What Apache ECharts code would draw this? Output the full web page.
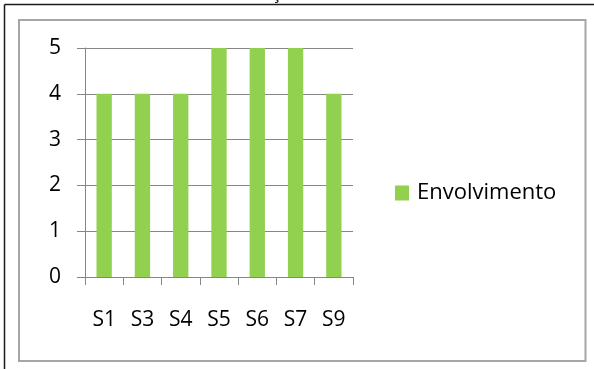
<!DOCTYPE html>
<html>
<head>
<meta charset="utf-8">
<style>
  html, body { margin: 0; padding: 0; background: #fff; }
  #chart { width: 594px; height: 369px; }
</style>
<script src="https://cdn.jsdelivr.net/npm/echarts@6/dist/echarts.min.js"></script>
</head>
<body>
<div id="chart"></div>
<script>
// Categories and values of the bar chart
const categories = ['S1', 'S3', 'S4', 'S5', 'S6', 'S7', 'S9'];
const seriesName = 'Envolvimento';
const envolvimento = [4, 4, 4, 5, 5, 5, 4];
const yTicks = [0, 1, 2, 3, 4, 5];

const FONT = '"Open Sans", sans-serif';
const chart = echarts.init(document.getElementById('chart'), null, { renderer: 'canvas' });

chart.setOption({
  animation: false,
  backgroundColor: '#ffffff',
  textStyle: { fontFamily: FONT },
  graphic: [
    // frame of the surrounding page box
    { type: 'line', shape: { x1: 4.5, y1: 4.5, x2: 600, y2: 4.5 },
      style: { stroke: '#1a1a1a', lineWidth: 1.5 } },
    { type: 'line', shape: { x1: 4.5, y1: 4.5, x2: 4.5, y2: 380 },
      style: { stroke: '#1a1a1a', lineWidth: 1.5 } },
    // chart area border
    { type: 'rect', shape: { x: 19, y: 20, width: 566.5, height: 341 },
      style: { fill: 'none', stroke: '#a6a6a6', lineWidth: 2 } },
    // tail of the heading text above the chart
    { type: 'text', x: 276, y: -6,
      style: { text: 'ç', font: '18px ' + FONT, fill: '#000',
               align: 'center', verticalAlign: 'middle' } }
  ],
  grid: { left: 85, right: 241, top: 48, bottom: 92, containLabel: false },
  legend: {
    data: [seriesName],
    orient: 'vertical',
    left: 395, top: 182, padding: 0,
    itemWidth: 14, itemHeight: 15, itemGap: 0,
    icon: 'rect',
    textStyle: { fontFamily: FONT, fontSize: 22, color: '#000', padding: [0, 0, 0, 3] }
  },
  xAxis: {
    type: 'category',
    data: categories,
    boundaryGap: true,
    axisLine: { show: true, lineStyle: { color: '#868686', width: 1 } },
    axisTick: { show: true, length: 8, alignWithLabel: false, lineStyle: { color: '#868686' } },
    axisLabel: { fontFamily: FONT, fontSize: 21, color: '#000', margin: 33 },
    splitLine: { show: false }
  },
  yAxis: {
    type: 'value',
    min: yTicks[0],
    max: yTicks[yTicks.length - 1],
    interval: 1,
    axisLine: { show: true, lineStyle: { color: '#868686', width: 1 } },
    axisTick: { show: true, length: 8, lineStyle: { color: '#868686' } },
    axisLabel: { fontFamily: FONT, fontSize: 21, color: '#000', margin: 24 },
    splitLine: { show: true, lineStyle: { color: '#868686', width: 1 } }
  },
  series: [{
    name: seriesName,
    type: 'bar',
    data: envolvimento,
    barCategoryGap: '60%',
    itemStyle: { color: '#92d050' }
  }]
});
</script>
</body>
</html>
